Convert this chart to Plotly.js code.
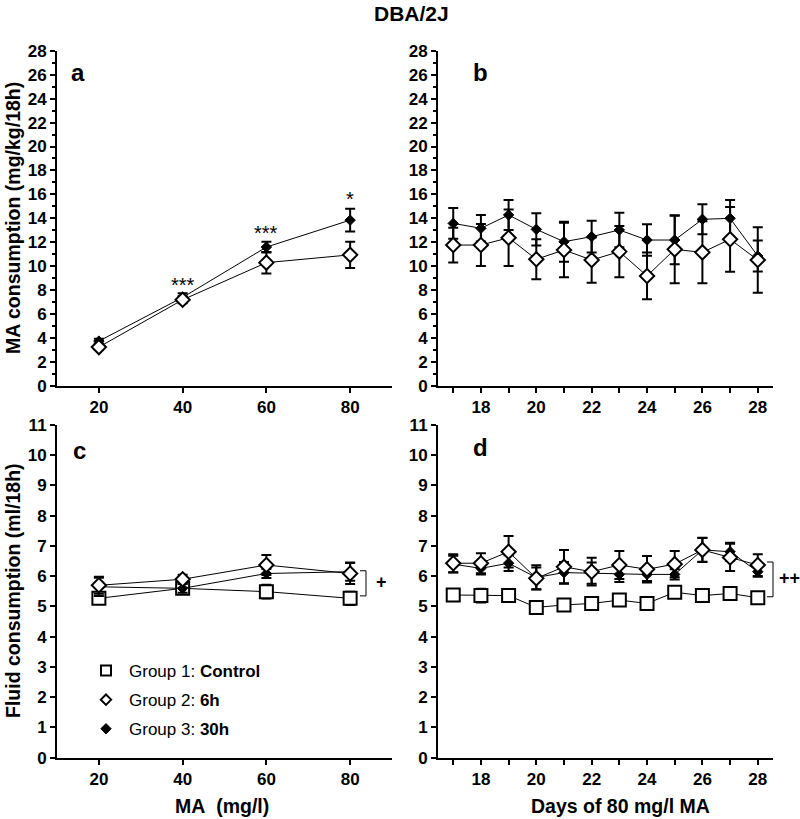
<!DOCTYPE html>
<html>
<head>
<meta charset="utf-8">
<script src="https://cdn.plot.ly/plotly-3.0.1.min.js"></script>
<style>html,body{margin:0;padding:0;background:#fff;}#chart{width:800px;height:819px;}</style>
</head>
<body>
<div id="chart"></div>
<script>
// ---- data ----
const maDose = [20, 40, 60, 80];
const days = [17, 18, 19, 20, 21, 22, 23, 24, 25, 26, 27, 28];
const dayTickLabels = [18, 20, 22, 24, 26, 28];
const doseTickLabels = [20, 40, 60, 80];

// panel a: MA consumption vs MA concentration
const maIntake6h = [3.25, 7.2, 10.3, 10.95];
const maIntake6hSem = [0.25, 0.3, 0.9, 1.1];
const maIntake30h = [3.75, 7.4, 11.6, 13.85];
const maIntake30hSem = [0.2, 0.35, 0.45, 0.95];

// panel b: MA consumption over days
const maDays6h = [11.77, 11.77, 12.38, 10.58, 11.36, 10.52, 11.22, 9.19, 11.41, 11.16, 12.25, 10.52];
const maDays6hSem = [1.45, 1.75, 2.36, 1.67, 2.28, 1.89, 2.14, 1.95, 2.84, 2.59, 2.7, 2.73];
const maDays30h = [13.58, 13.17, 14.28, 13.08, 12.05, 12.47, 13.03, 12.19, 12.19, 13.92, 14.0, 10.86];
const maDays30hSem = [1.28, 1.1, 1.25, 1.34, 1.67, 1.33, 1.44, 1.31, 2.03, 1.25, 1.53, 1.3];

// panel c: fluid consumption vs MA concentration
const fluidCtrl = [5.27, 5.6, 5.49, 5.27];
const fluidCtrlSem = [0.12, 0.12, 0.23, 0.22];
const fluid6h = [5.7, 5.9, 6.37, 6.09];
const fluid6hSem = [0.28, 0.15, 0.33, 0.35];
const fluid30h = [5.65, 5.6, 6.09, 6.15];
const fluid30hSem = [0.3, 0.15, 0.15, 0.3];

// panel d: fluid consumption over days
const fluidDaysCtrl = [5.38, 5.36, 5.36, 4.97, 5.05, 5.1, 5.21, 5.1, 5.47, 5.36, 5.43, 5.29];
const fluidDaysCtrlSem = [0.15, 0.23, 0.12, 0.2, 0.2, 0.12, 0.1, 0.15, 0.12, 0.1, 0.15, 0.12];
const fluidDays6h = [6.43, 6.43, 6.81, 5.93, 6.31, 6.15, 6.37, 6.23, 6.4, 6.87, 6.62, 6.37];
const fluidDays6hSem = [0.3, 0.33, 0.52, 0.36, 0.56, 0.46, 0.46, 0.44, 0.43, 0.4, 0.45, 0.36];
const fluidDays30h = [6.4, 6.26, 6.43, 5.96, 6.12, 6.1, 6.06, 6.06, 6.06, 6.87, 6.81, 6.15];
const fluidDays30hSem = [0.28, 0.2, 0.26, 0.4, 0.35, 0.35, 0.25, 0.22, 0.17, 0.39, 0.3, 0.17];

const groupNames = ['Group 1: <b>Control</b>', 'Group 2: <b>6h</b>', 'Group 3: <b>30h</b>'];
const sigLabelsA = [{x: 40, y: 8.45, t: '***'}, {x: 60, y: 12.8, t: '***'}, {x: 80, y: 15.6, t: '*'}];

// ---- styles ----
const FONT = 'Arial, "Liberation Sans", sans-serif';
const styles = {
  ctrl: {symbol: 'square', size: 13, color: '#fff', line: {color: '#000', width: 2}},
  g6: {symbol: 'diamond', size: 11, color: '#fff', line: {color: '#000', width: 2}},
  g30: {symbol: 'diamond', size: 8, color: '#000', line: {color: '#000', width: 1}}
};

function series(x, y, sem, style, xa, ya) {
  return {
    x: x, y: y, xaxis: xa, yaxis: ya, type: 'scatter', mode: 'lines+markers',
    line: {color: '#000', width: 1},
    marker: style,
    error_y: {type: 'data', array: sem, visible: true, color: '#000', thickness: 2, width: 5},
    showlegend: false, hoverinfo: 'skip'
  };
}

const traces = [
  series(maDose, maIntake30h, maIntake30hSem, styles.g30, 'x', 'y'),
  series(maDose, maIntake6h, maIntake6hSem, styles.g6, 'x', 'y'),
  series(days, maDays30h, maDays30hSem, styles.g30, 'x2', 'y2'),
  series(days, maDays6h, maDays6hSem, styles.g6, 'x2', 'y2'),
  series(maDose, fluidCtrl, fluidCtrlSem, styles.ctrl, 'x3', 'y3'),
  series(maDose, fluid30h, fluid30hSem, styles.g30, 'x3', 'y3'),
  series(maDose, fluid6h, fluid6hSem, styles.g6, 'x3', 'y3'),
  series(days, fluidDaysCtrl, fluidDaysCtrlSem, styles.ctrl, 'x4', 'y4'),
  series(days, fluidDays30h, fluidDays30hSem, styles.g30, 'x4', 'y4'),
  series(days, fluidDays6h, fluidDays6hSem, styles.g6, 'x4', 'y4')
];

// legend-only entries
const legendMarkers = [
  {symbol: 'square', size: 10, color: '#fff', line: {color: '#000', width: 2}},
  {symbol: 'diamond', size: 8, color: '#fff', line: {color: '#000', width: 2}},
  {symbol: 'diamond', size: 8, color: '#000', line: {color: '#000', width: 1}}
];
groupNames.forEach((n, i) => {
  traces.push({x: [null], y: [null], xaxis: 'x3', yaxis: 'y3', type: 'scatter', mode: 'markers',
    name: n, marker: legendMarkers[i], showlegend: true, legendgroup: 'g' + i});
});

const tickFont = {family: FONT, size: 17, color: '#000', weight: 'bold'};
function axis(extra) {
  return Object.assign({
    showline: true, linecolor: '#000', linewidth: 2, showgrid: false, zeroline: false,
    ticks: 'outside', ticklen: 5, tickwidth: 2, tickcolor: '#000', tickfont: tickFont,
    fixedrange: true
  }, extra);
}

const W = 800, H = 819;
const px = v => v / W, py = v => (H - v) / H;
const domA = [px(57), px(392)], domB = [px(438), px(773)];
const domTop = [py(386), py(50.7)], domBot = [py(757.7), py(425)];

const layout = {
  width: W, height: H, margin: {l: 0, r: 0, t: 0, b: 0},
  paper_bgcolor: '#fff', plot_bgcolor: 'rgba(0,0,0,0)',
  showlegend: true,
  legend: {x: px(83), y: py(653), xanchor: 'left', yanchor: 'top', bgcolor: 'rgba(0,0,0,0)',
    font: {family: FONT, size: 17, color: '#000'}, traceorder: 'grouped', tracegroupgap: 4,
    itemwidth: 36, itemclick: false},
  xaxis: axis({domain: domA, anchor: 'y', range: [10, 90], tickvals: doseTickLabels}),
  yaxis: axis({domain: domTop, anchor: 'x', range: [0, 28], dtick: 2, tick0: 0,
    minor: {dtick: 1, tick0: 0, ticklen: 3, tickwidth: 2, tickcolor: '#000', ticks: 'outside'}}),
  xaxis2: axis({domain: domB, anchor: 'y2', range: [16.45, 28.55], tickvals: dayTickLabels,
    minor: {dtick: 1, tick0: 17, ticklen: 5, tickwidth: 2, tickcolor: '#000', ticks: 'outside'}}),
  yaxis2: axis({domain: domTop, anchor: 'x2', range: [0, 28], dtick: 2, tick0: 0,
    minor: {dtick: 1, tick0: 0, ticklen: 3, tickwidth: 2, tickcolor: '#000', ticks: 'outside'}}),
  xaxis3: axis({domain: domA, anchor: 'y3', range: [10, 90], tickvals: doseTickLabels}),
  yaxis3: axis({domain: domBot, anchor: 'x3', range: [0, 11], dtick: 1, tick0: 0}),
  xaxis4: axis({domain: domB, anchor: 'y4', range: [16.45, 28.55], tickvals: dayTickLabels,
    minor: {dtick: 1, tick0: 17, ticklen: 5, tickwidth: 2, tickcolor: '#000', ticks: 'outside'}}),
  yaxis4: axis({domain: domBot, anchor: 'x4', range: [0, 11], dtick: 1, tick0: 0}),
  shapes: [
    // bracket c
    {type: 'line', xref: 'paper', yref: 'y3', x0: px(366), x1: px(366), y0: 5.35, y1: 6.18, line: {color: '#000', width: 1}},
    {type: 'line', xref: 'paper', yref: 'y3', x0: px(360), x1: px(366), y0: 6.18, y1: 6.18, line: {color: '#000', width: 1}},
    {type: 'line', xref: 'paper', yref: 'y3', x0: px(360), x1: px(366), y0: 5.35, y1: 5.35, line: {color: '#000', width: 1}},
    // bracket d
    {type: 'line', xref: 'paper', yref: 'y4', x0: px(773), x1: px(773), y0: 5.32, y1: 6.47, line: {color: '#000', width: 1}},
    {type: 'line', xref: 'paper', yref: 'y4', x0: px(767), x1: px(773), y0: 6.47, y1: 6.47, line: {color: '#000', width: 1}},
    {type: 'line', xref: 'paper', yref: 'y4', x0: px(767), x1: px(773), y0: 5.32, y1: 5.32, line: {color: '#000', width: 1}}
  ],
  annotations: []
};

const ann = layout.annotations;
function txt(text, x, y, size, bold, extra) {
  ann.push(Object.assign({text: text, x: x, y: y, xref: 'paper', yref: 'paper', showarrow: false,
    xanchor: 'center', yanchor: 'middle',
    font: {family: FONT, size: size, color: '#000', weight: bold ? 'bold' : 'normal'}}, extra || {}));
}
txt('DBA/2J', px(411), py(13), 21, true);
txt('a', px(78), py(72), 24, true);
txt('b', px(480), py(72), 24, true);
txt('c', px(79), py(450), 24, true);
txt('d', px(480), py(447), 24, true);
txt('MA consumption (mg/kg/18h)', px(13), py(218), 19.5, true, {textangle: -90});
txt('Fluid consumption (ml/18h)', px(13), py(591), 19.5, true, {textangle: -90});
txt('MA\u00A0 (mg/l)', px(222), py(806), 19.5, true);
txt('Days of 80 mg/l MA', px(620), py(806), 19.5, true);
txt('+', px(381), 5.81, 18, true, {yref: 'y3'});
txt('++', px(789), 5.94, 18, true, {yref: 'y4'});
sigLabelsA.forEach(s => txt(s.t, s.x, s.y, 20, false, {xref: 'x', yref: 'y'}));

Plotly.newPlot('chart', traces, layout, {staticPlot: true, displayModeBar: false});
</script>
</body>
</html>
